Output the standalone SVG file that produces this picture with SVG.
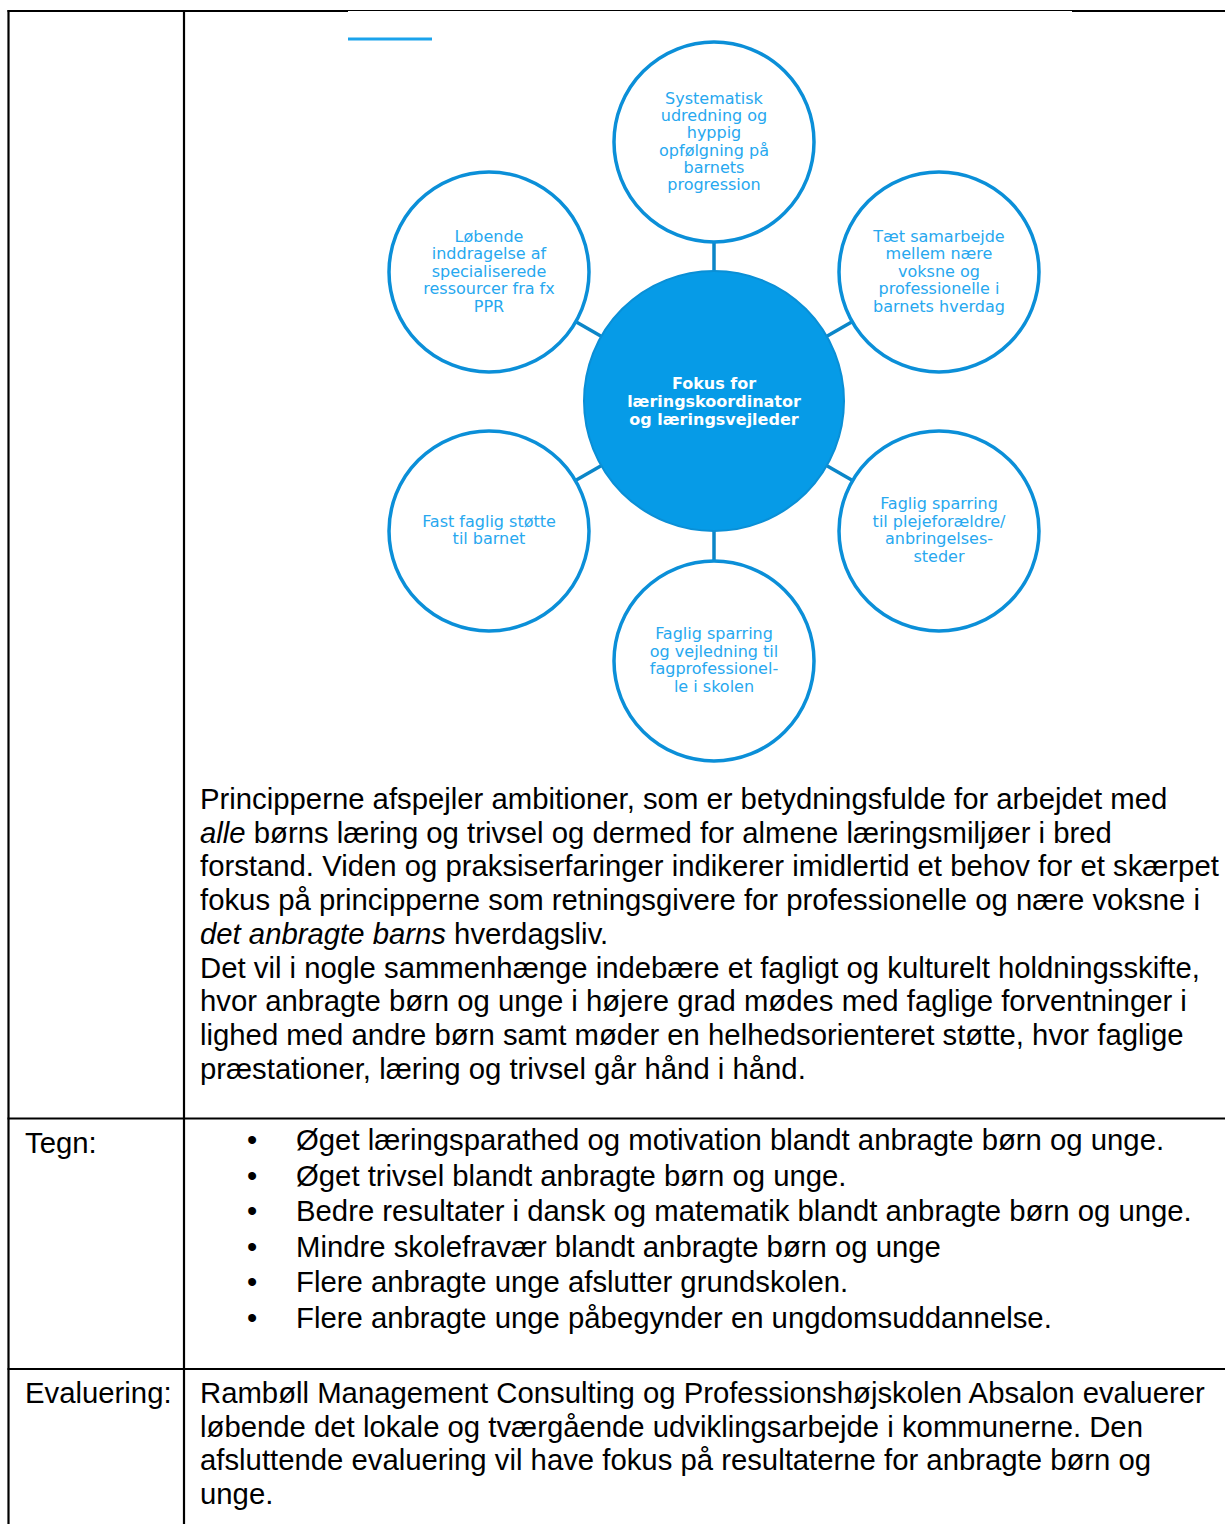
<svg xmlns="http://www.w3.org/2000/svg" width="1225" height="1524" viewBox="0 0 1225 1524">
<style>
.tbl{stroke:#000;stroke-width:2.2;fill:none}
.thin{stroke:#000;stroke-width:1.2;fill:none}
.ring{fill:#fff;stroke:#0b8fd8;stroke-width:3.5}
.hub{fill:#069be7;stroke:#0a8fd6;stroke-width:2}
.conn{stroke:#0b86c8;stroke-width:3.5}
.st{font-family:"DejaVu Sans",Verdana,sans-serif;font-size:16px;fill:#27a8ef;text-anchor:middle}
.ht{font-family:"DejaVu Sans",Verdana,sans-serif;font-size:16px;font-weight:bold;fill:#fff;text-anchor:middle}
.body{font-family:"Liberation Sans",Arial,sans-serif;font-size:29.3px;fill:#000}
</style>
<rect width="1225" height="1524" fill="#fff"/>
<g id="table">
<line class="tbl" x1="8.5" y1="10" x2="8.5" y2="1524"/>
<line class="tbl" x1="184" y1="10" x2="184" y2="1524"/>
<line class="tbl" x1="7.5" y1="11" x2="348" y2="11"/>
<line class="thin" x1="348" y1="10.5" x2="1072" y2="10.5"/>
<line class="tbl" x1="1072" y1="11" x2="1225" y2="11"/>
<line class="tbl" x1="7.5" y1="1118.5" x2="1225" y2="1118.5"/>
<line class="tbl" x1="7.5" y1="1369" x2="1225" y2="1369"/>
<line x1="348" y1="39" x2="432" y2="39" stroke="#1aa3ec" stroke-width="3"/>
</g>
<g id="connectors">
<line class="conn" x1="714" y1="243" x2="714" y2="273"/>
<line class="conn" x1="602" y1="336.8" x2="575.9" y2="321.8"/>
<line class="conn" x1="826" y1="336.8" x2="852.1" y2="321.8"/>
<line class="conn" x1="602" y1="465.2" x2="575.9" y2="480.2"/>
<line class="conn" x1="826" y1="465.2" x2="852.1" y2="480.2"/>
<line class="conn" x1="714" y1="529" x2="714" y2="560"/>
</g>
<g id="hub">
<circle class="hub" cx="714" cy="401" r="130"/>
<text class="ht" x="714" y="389">Fokus for</text>
<text class="ht" x="714" y="407">læringskoordinator</text>
<text class="ht" x="714" y="424.5">og læringsvejleder</text>
</g>
<g id="node-top">
<circle class="ring" cx="714" cy="142" r="100"/>
<text class="st" x="714" y="104">Systematisk</text>
<text class="st" x="714" y="121.2">udredning og</text>
<text class="st" x="714" y="138.4">hyppig</text>
<text class="st" x="714" y="155.6">opfølgning på</text>
<text class="st" x="714" y="172.8">barnets</text>
<text class="st" x="714" y="190">progression</text>
</g>
<g id="node-upper-left">
<circle class="ring" cx="489" cy="272" r="100"/>
<text class="st" x="489" y="241.7">Løbende</text>
<text class="st" x="489" y="259.2">inddragelse af</text>
<text class="st" x="489" y="276.7">specialiserede</text>
<text class="st" x="489" y="294.2">ressourcer fra fx</text>
<text class="st" x="489" y="311.7">PPR</text>
</g>
<g id="node-upper-right">
<circle class="ring" cx="939" cy="272" r="100"/>
<text class="st" x="939" y="241.7">Tæt samarbejde</text>
<text class="st" x="939" y="259.2">mellem nære</text>
<text class="st" x="939" y="276.7">voksne og</text>
<text class="st" x="939" y="294.2">professionelle i</text>
<text class="st" x="939" y="311.7">barnets hverdag</text>
</g>
<g id="node-lower-left">
<circle class="ring" cx="489" cy="531" r="100"/>
<text class="st" x="489" y="526.7">Fast faglig støtte</text>
<text class="st" x="489" y="544.3">til barnet</text>
</g>
<g id="node-lower-right">
<circle class="ring" cx="939" cy="531" r="100"/>
<text class="st" x="939" y="509.3">Faglig sparring</text>
<text class="st" x="939" y="526.8">til plejeforældre/</text>
<text class="st" x="939" y="544.3">anbringelses-</text>
<text class="st" x="939" y="561.8">steder</text>
</g>
<g id="node-bottom">
<circle class="ring" cx="714" cy="661" r="100"/>
<text class="st" x="714" y="639.3">Faglig sparring</text>
<text class="st" x="714" y="656.8">og vejledning til</text>
<text class="st" x="714" y="674.3">fagprofessionel-</text>
<text class="st" x="714" y="691.8">le i skolen</text>
</g>
<g id="paragraph" class="body">
<text x="200" y="809">Principperne afspejler ambitioner, som er betydningsfulde for arbejdet med</text>
<text x="200" y="843"><tspan font-style="italic">alle</tspan> børns læring og trivsel og dermed for almene læringsmiljøer i bred</text>
<text x="200" y="876">forstand. Viden og praksiserfaringer indikerer imidlertid et behov for et skærpet</text>
<text x="200" y="910">fokus på principperne som retningsgivere for professionelle og nære voksne i</text>
<text x="200" y="944"><tspan font-style="italic">det anbragte barns</tspan> hverdagsliv.</text>
<text x="200" y="978">Det vil i nogle sammenhænge indebære et fagligt og kulturelt holdningsskifte,</text>
<text x="200" y="1011">hvor anbragte børn og unge i højere grad mødes med faglige forventninger i</text>
<text x="200" y="1045">lighed med andre børn samt møder en helhedsorienteret støtte, hvor faglige</text>
<text x="200" y="1079">præstationer, læring og trivsel går hånd i hånd.</text>
</g>
<g id="tegn" class="body">
<text x="25" y="1153">Tegn:</text>
<text x="247" y="1150">•</text><text x="296" y="1150">Øget læringsparathed og motivation blandt anbragte børn og unge.</text>
<text x="247" y="1185.6">•</text><text x="296" y="1185.6">Øget trivsel blandt anbragte børn og unge.</text>
<text x="247" y="1221.2">•</text><text x="296" y="1221.2">Bedre resultater i dansk og matematik blandt anbragte børn og unge.</text>
<text x="247" y="1256.8">•</text><text x="296" y="1256.8">Mindre skolefravær blandt anbragte børn og unge</text>
<text x="247" y="1292.4">•</text><text x="296" y="1292.4">Flere anbragte unge afslutter grundskolen.</text>
<text x="247" y="1328">•</text><text x="296" y="1328">Flere anbragte unge påbegynder en ungdomsuddannelse.</text>
</g>
<g id="evaluering" class="body">
<text x="25" y="1403">Evaluering:</text>
<text x="200" y="1403">Rambøll Management Consulting og Professionshøjskolen Absalon evaluerer</text>
<text x="200" y="1436.5">løbende det lokale og tværgående udviklingsarbejde i kommunerne. Den</text>
<text x="200" y="1470">afsluttende evaluering vil have fokus på resultaterne for anbragte børn og</text>
<text x="200" y="1504">unge.</text>
</g>
</svg>
